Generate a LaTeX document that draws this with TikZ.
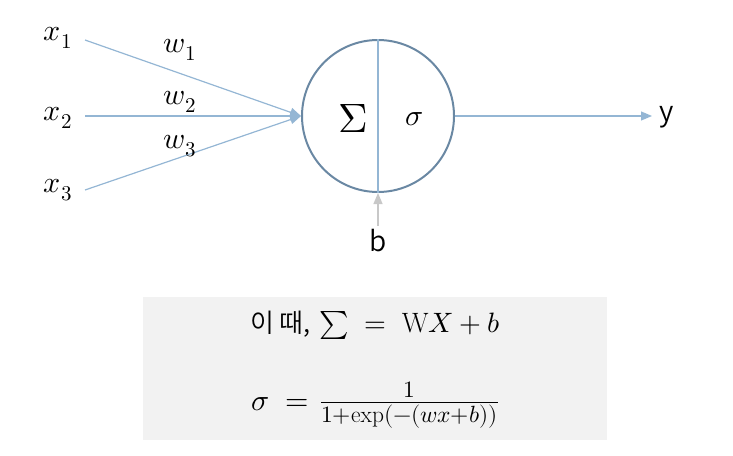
\documentclass[tikz,border=0pt]{standalone}
\usepackage{fontspec}
\usepackage{unicode-math}
\newfontfamily\krfont{Noto Sans CJK KR}[UprightFont=* DemiLight]
\usetikzlibrary{arrows.meta}

\definecolor{linkblue}{HTML}{94B6D4}
\definecolor{ringblue}{HTML}{6A88A3}
\definecolor{biasgray}{HTML}{C8C8C8}
\definecolor{boxgray}{HTML}{F2F2F2}

\begin{document}
\begin{tikzpicture}[x=1pt,y=-1pt,
  link/.style={draw=linkblue,line width=1.2pt},
  tip/.style={-{Triangle[length=11pt,width=9pt]}},
  lab/.style={font=\fontsize{30}{34}\selectfont},
  sanslab/.style={font=\krfont\fontsize{28}{30}\selectfont}]

\useasboundingbox (0,0) rectangle (733,455);

% 公式框
\fill[boxgray] (143,297) rectangle (607,440);

% 神经元
\node[circle,draw=ringblue,line width=2pt,minimum size=152pt,inner sep=0pt] (cell) at (378,116) {};
\draw[link] (cell.north) -- (cell.south);
\node[font=\fontsize{41}{44}\selectfont] (sum) at (353,118) {$\Sigma$};
\node[lab] (act) at (414,119) {$\sigma$};

% 输入
\node[lab] (x1) at (58,38) {$x_1$};
\node[lab] (x2) at (58,118) {$x_2$};
\node[lab] (x3) at (58,190) {$x_3$};
\coordinate (in1) at (85,40);
\coordinate (in2) at (85,116);
\coordinate (in3) at (85,190);
\draw[link,tip] (in1) -- (cell.west);
\draw[link,tip] (in2) -- (cell.west);
\draw[link,tip] (in3) -- (cell.west);

% 权重
\node[lab] (w1) at (180,50) {$w_1$};
\node[lab] (w2) at (180,102) {$w_2$};
\node[lab] (w3) at (180,146) {$w_3$};

% 输出
\coordinate (out) at (652,116);
\draw[link,tip] (cell.east) -- (out);
\node[sanslab] (y) at (667,117) {y};

% 偏置
\node[sanslab] (b) at (378,241) {b};
\draw[draw=biasgray,line width=1.2pt,tip] (b.north) -- (cell.south);

% 公式
\node[font=\fontsize{28}{32}\selectfont] (eq1) at (375,325) {{\krfont\fontsize{26}{30}\selectfont 이 때,} $\sum\;=\;\mathrm{W}X+b$};
\node (eq2) at (375,405) {{\fontsize{30}{34}\selectfont$\sigma\;=$}\hspace{11pt}{\fontsize{33.5}{36}\selectfont$\frac{1}{1+\exp(-(wx+b))}$}};

\end{tikzpicture}
\end{document}
